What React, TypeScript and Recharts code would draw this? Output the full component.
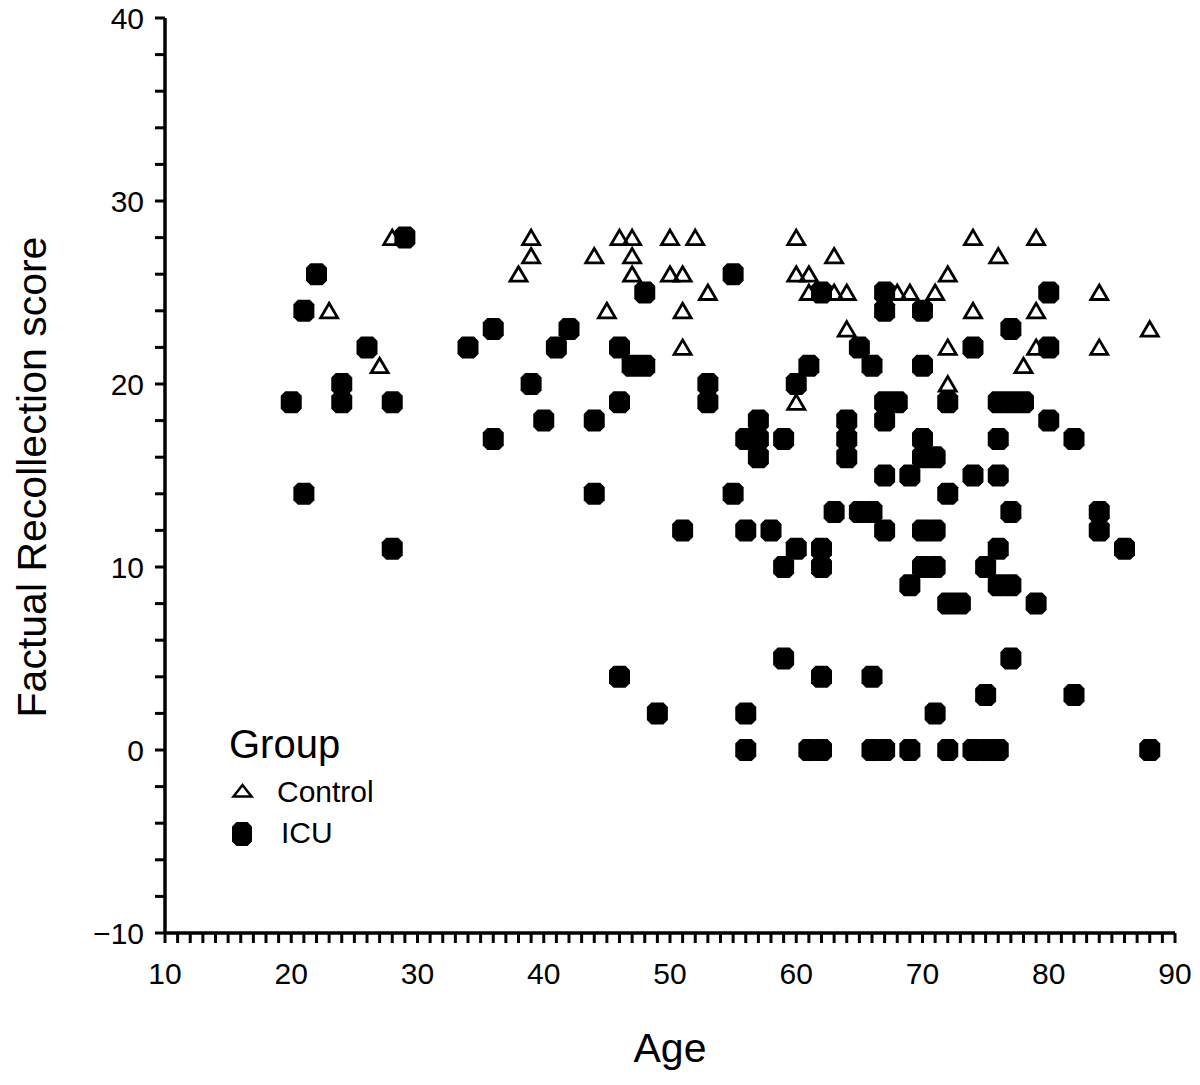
import React from 'react';
import { ScatterChart, Scatter, XAxis, YAxis, Customized } from 'recharts';

const controlAge = [28, 23, 27, 39, 46, 47, 50, 52, 39, 44, 47, 38, 47, 50, 51, 53, 45, 51, 51, 60, 63, 60, 61, 61, 63, 64, 68, 69, 71, 72, 64, 72, 72, 60, 74, 79, 76, 84, 74, 79, 88, 79, 84, 78];
const controlScore = [28, 24, 21, 28, 28, 28, 28, 28, 27, 27, 27, 26, 26, 26, 26, 25, 24, 24, 22, 28, 27, 26, 26, 25, 25, 25, 25, 25, 25, 26, 23, 22, 20, 19, 28, 28, 27, 25, 24, 24, 23, 22, 22, 21];

const icuAge = [29, 22, 21, 26, 24, 24, 20, 28, 34, 21, 28, 36, 42, 41, 46, 47, 48, 39, 46, 53, 53, 40, 44, 36, 44, 55, 51, 48, 55,
  62, 67, 67, 70, 65, 66, 70, 72, 74, 61, 60, 67, 68, 67, 57, 56, 57, 59, 57, 64, 64, 64, 70, 70, 71, 67, 69, 74, 72, 63, 65, 66, 67, 56, 58, 70, 71, 60, 62, 59, 62, 70, 71, 69,
  80, 77, 80, 76, 77, 78, 80, 82, 76, 76, 77, 84, 84, 86, 76, 75, 76, 77, 72, 73, 79,
  59, 46, 49, 56, 56, 62, 66, 77, 75, 82, 71,
  61, 62, 66, 67, 69, 72, 74, 75, 76, 88];
const icuScore = [28, 26, 24, 22, 20, 19, 19, 19, 22, 14, 11, 23, 23, 22, 22, 21, 21, 20, 19, 20, 19, 18, 18, 17, 14, 14, 12, 25, 26,
  25, 25, 24, 24, 22, 21, 21, 19, 22, 21, 20, 19, 19, 18, 18, 17, 17, 17, 16, 18, 17, 16, 17, 16, 16, 15, 15, 15, 14, 13, 13, 13, 12, 12, 12, 12, 12, 11, 11, 10, 10, 10, 10, 9,
  25, 23, 22, 19, 19, 19, 18, 17, 17, 15, 13, 13, 12, 11, 11, 10, 9, 9, 8, 8, 8,
  5, 4, 2, 2, 0, 4, 4, 5, 3, 3, 2,
  0, 0, 0, 0, 0, 0, 0, 0, 0, 0];

const groupNames = ['Control', 'ICU'];
const xMajorTicks = [10, 20, 30, 40, 50, 60, 70, 80, 90];
const yMajorTicks = [-10, 0, 10, 20, 30, 40];
const xTicks = Array.from({ length: 81 }, (_, i) => 10 + i);
const yTicks = Array.from({ length: 26 }, (_, i) => -10 + i * 2);

const controlData = controlAge.map((a, i) => ({ age: a, score: controlScore[i] }));
const icuData = icuAge.map((a, i) => ({ age: a, score: icuScore[i] }));

const FONT = 'Liberation Sans, Arial, Helvetica, sans-serif';

const trianglePath = (cx: number, cy: number, w = 8.5, h = 7.5) =>
  `M${cx},${cy - h} L${cx + w},${cy + h - 0.5} L${cx - w},${cy + h - 0.5} Z`;

const octPath = (cx: number, cy: number, hw = 10.5, hh = 11, c = 4.5) =>
  `M${cx - hw + c},${cy - hh} L${cx + hw - c},${cy - hh} L${cx + hw},${cy - hh + c} L${cx + hw},${cy + hh - c} L${cx + hw - c},${cy + hh} L${cx - hw + c},${cy + hh} L${cx - hw},${cy + hh - c} L${cx - hw},${cy - hh + c} Z`;

const TriangleShape = (props: any) => {
  const { cx, cy } = props;
  if (cx == null || cy == null) return null;
  return <path d={trianglePath(cx, cy)} fill="none" stroke="#000" strokeWidth={2.8} strokeLinejoin="miter" />;
};

const OctShape = (props: any) => {
  const { cx, cy } = props;
  if (cx == null || cy == null) return null;
  return <path d={octPath(cx, cy)} fill="#000" stroke="none" />;
};

const fmtY = (v: number) => (v < 0 ? '\u2212' + Math.abs(v) : String(v));

const XTick = (props: any) => {
  const { x, y, payload } = props;
  const v = payload?.value;
  if (!xMajorTicks.includes(v)) return null;
  return (
    <text x={x} y={y} dy="0.71em" textAnchor="middle" fontSize={30} fontFamily={FONT} fill="#000">
      {String(v)}
    </text>
  );
};

const YTick = (props: any) => {
  const { x, y, payload } = props;
  const v = payload?.value;
  if (!yMajorTicks.includes(v)) return null;
  return (
    <text x={x} y={y} dy="0.355em" textAnchor="end" fontSize={30} fontFamily={FONT} fill="#000">
      {fmtY(v)}
    </text>
  );
};

const Overlay = () => (
  <g fontFamily={FONT} fill="#000">
    <text x={46} y={477} fontSize={41} textAnchor="middle" transform="rotate(-90, 46, 477)">
      Factual Recollection score
    </text>
    <text x={670} y={1062} fontSize={41} textAnchor="middle">Age</text>
    <text x={229} y={758} fontSize={40}>Group</text>
    <path d={trianglePath(242.5, 791, 9, 6)} fill="none" stroke="#000" strokeWidth={2.5} />
    <text x={277} y={802} fontSize={30}>{groupNames[0]}</text>
    <path d={octPath(242, 834, 10, 12, 4.5)} fill="#000" />
    <text x={281} y={843} fontSize={30}>{groupNames[1]}</text>
  </g>
);

export default function App() {
  return (
    <div style={{ position: 'absolute', left: 0, top: 0, width: 1200, height: 1085, background: '#fff' }}>
      <ScatterChart width={1200} height={1085} margin={{ top: 18, right: 25, left: 65, bottom: 92 }}>
        <XAxis
          type="number"
          dataKey="age"
          domain={[10, 90]}
          ticks={xTicks}
          interval={0}
          height={60}
          tickSize={10}
          tickMargin={20}
          axisLine={{ stroke: '#000', strokeWidth: 3.5 }}
          tickLine={{ stroke: '#000', strokeWidth: 3 }}
          tick={<XTick />}
          allowDataOverflow
        />
        <YAxis
          type="number"
          dataKey="score"
          domain={[-10, 40]}
          ticks={yTicks}
          interval={0}
          width={100}
          tickSize={10}
          tickMargin={11}
          axisLine={{ stroke: '#000', strokeWidth: 3.5 }}
          tickLine={{ stroke: '#000', strokeWidth: 3 }}
          tick={<YTick />}
          allowDataOverflow
        />
        <Scatter name={groupNames[0]} data={controlData} shape={TriangleShape} isAnimationActive={false} />
        <Scatter name={groupNames[1]} data={icuData} shape={OctShape} isAnimationActive={false} />
        <Customized component={Overlay} />
      </ScatterChart>
    </div>
  );
}
